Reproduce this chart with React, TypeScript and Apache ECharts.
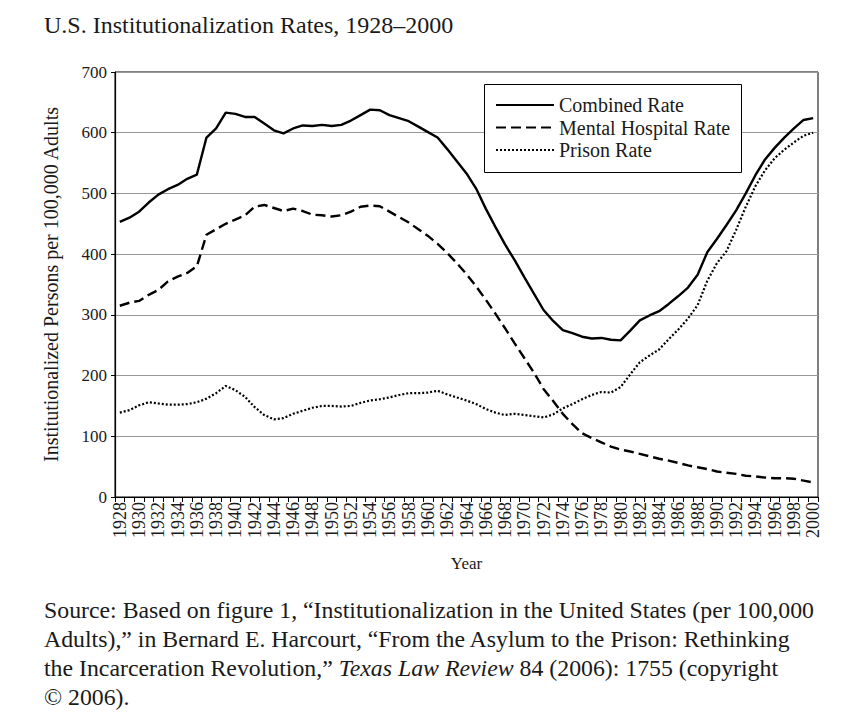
import React, { useEffect, useRef } from "react";
import * as echarts from "echarts";

const years: string[] = [];
for (let y = 1928; y <= 2000; y++) years.push(String(y));

const combinedRate = [
  453, 460, 470, 485, 498, 507, 514, 524, 531, 592,
  607, 633, 631, 626, 626, 615, 604, 599, 607, 612,
  611, 613, 611, 613, 620, 629, 638, 637, 629, 624,
  619, 610, 601, 592, 573, 553, 533, 508, 475, 445,
  416, 390, 362, 335, 308, 290, 275, 270, 264, 261,
  262, 259, 258, 274, 291, 299, 306, 318, 331, 345,
  366, 403, 425, 448, 472, 500, 530, 556, 575, 592,
  607, 621, 624,
];

const mentalHospitalRate = [
  315, 320, 323, 333, 341, 355, 363, 369, 380, 432,
  441, 450, 457, 464, 478, 481, 476, 471, 475, 471,
  465, 464, 462, 464, 470, 478, 480, 479, 470, 461,
  452, 441, 430, 417, 402, 385, 367, 347, 325, 302,
  278, 253, 229, 205, 178, 158, 137, 120, 105, 97,
  90, 83, 78, 75, 71, 67, 63, 60, 56, 52,
  49, 46, 42, 40, 38, 35, 34, 32, 31, 31,
  30, 27, 24,
];

const prisonRate = [
  139, 143, 151, 156, 154, 152, 152, 153, 156, 162,
  171, 183, 176, 165, 148, 135, 128, 130, 137, 142,
  147, 150, 150, 149, 150, 155, 159, 161, 164, 168,
  171, 171, 172, 175, 169, 164, 159, 153, 145, 139,
  135, 137, 135, 133, 131, 136, 146, 153, 161, 168,
  173, 172, 181, 202, 222, 233, 243, 260, 276, 294,
  316, 356, 385, 405, 440, 478, 512, 538, 558, 572,
  584, 595, 600,
];

const titleText = "U.S. Institutionalization Rates, 1928–2000";
const yAxisTitle = "Institutionalized Persons per 100,000 Adults";
const xAxisTitle = "Year";
const sourceLines = [
  "Source: Based on figure 1, “Institutionalization in the United States (per 100,000",
  "Adults),” in Bernard E. Harcourt, “From the Asylum to the Prison: Rethinking",
  "the Incarceration Revolution,” {i|Texas Law Review} 84 (2006): 1755 (copyright",
  "© 2006).",
];

const FONT = "'Liberation Serif', 'Times New Roman', serif";
const INK = "#1a1a1a";

export default function App() {
  const ref = useRef<HTMLDivElement>(null);
  useEffect(() => {
    document.body.style.margin = "0";
    if (!ref.current) return;
    const chart = echarts.init(ref.current, null, { renderer: "svg" });
    const lineBase = { type: "line", symbol: "none", showSymbol: false, smooth: false };
    const sourceGraphics = sourceLines.map((t, i) => ({
      type: "text",
      left: 44,
      top: 598 + i * 29,
      style: {
        text: t,
        fontFamily: FONT,
        fontSize: 23.8,
        fill: INK,
        rich: {
          i: { fontStyle: "italic", fontFamily: FONT, fontSize: 23.8, fill: INK },
        },
      },
    }));
    chart.setOption({
      animation: false,
      backgroundColor: "#fff",
      textStyle: { fontFamily: FONT, color: INK },
      title: {
        text: titleText,
        left: 44,
        top: 13,
        padding: 0,
        textStyle: { fontFamily: FONT, fontSize: 24, fontWeight: "normal", color: INK },
      },
      legend: {
        orient: "vertical",
        left: 484,
        top: 84,
        z: 6,
        padding: [11, 10, 12, 11],
        itemWidth: 58,
        itemHeight: 14,
        itemGap: 2.5,
        backgroundColor: "transparent",
        borderWidth: 0,
        itemStyle: { opacity: 0 },
        textStyle: { fontFamily: FONT, fontSize: 20, color: INK },
        data: ["Combined Rate", "Mental Hospital Rate", "Prison Rate"],
      },
      grid: {
        left: 115,
        right: 46,
        top: 72,
        bottom: 230,
        show: true,
        borderColor: "#000",
        borderWidth: 1,
        backgroundColor: "transparent",
      },
      xAxis: {
        type: "category",
        data: years,
        boundaryGap: true,
        name: xAxisTitle,
        nameLocation: "middle",
        nameGap: 58,
        nameTextStyle: { fontFamily: FONT, fontSize: 17, color: INK },
        axisLine: { lineStyle: { color: "#000", width: 1.2 } },
        axisTick: { show: true, interval: 0, length: 5, lineStyle: { color: "#000" } },
        axisLabel: {
          interval: 1,
          rotate: 90,
          margin: 5,
          fontFamily: FONT,
          fontSize: 18,
          color: INK,
        },
        splitLine: { show: false },
      },
      yAxis: {
        type: "value",
        min: 0,
        max: 700,
        interval: 100,
        name: yAxisTitle,
        nameLocation: "middle",
        nameGap: 54,
        nameRotate: 90,
        nameTextStyle: { fontFamily: FONT, fontSize: 20, color: INK },
        axisLine: { show: true, lineStyle: { color: "#000", width: 1.2 } },
        axisTick: { show: true, length: 4, lineStyle: { color: "#000" } },
        axisLabel: { fontFamily: FONT, fontSize: 17, color: INK, margin: 8 },
        splitLine: { show: true, lineStyle: { color: "#999", width: 1 } },
      },
      series: [
        {
          ...lineBase,
          name: "Combined Rate",
          data: combinedRate,
          z: 3,
          lineStyle: { color: "#000", width: 2.4, type: "solid" },
          itemStyle: { color: "#000" },
        },
        {
          ...lineBase,
          name: "Mental Hospital Rate",
          data: mentalHospitalRate,
          z: 2,
          lineStyle: { color: "#000", width: 2.4, type: [10, 5] },
          itemStyle: { color: "#000" },
        },
        {
          ...lineBase,
          name: "Prison Rate",
          data: prisonRate,
          z: 2,
          lineStyle: { color: "#000", width: 2.2, type: [2, 2] },
          itemStyle: { color: "#000" },
        },
      ],
      graphic: [
        {
          type: "rect",
          z: 5,
          shape: { x: 484.5, y: 84.5, width: 257, height: 88 },
          style: { fill: "#fff", stroke: "#000", lineWidth: 1 },
        },
        ...sourceGraphics,
      ],
    });
    return () => chart.dispose();
  }, []);
  return (
    <div
      ref={ref}
      style={{ position: "absolute", left: 0, top: 0, width: 864, height: 727 }}
    />
  );
}
